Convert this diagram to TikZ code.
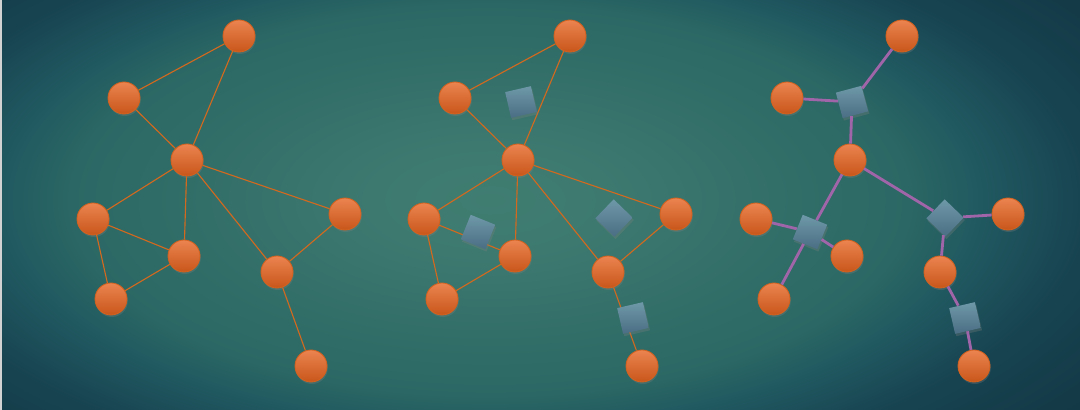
\documentclass[tikz,border=0pt]{standalone}
\usepackage{tikz}
\usetikzlibrary{shadows}

\definecolor{bgcenter}{HTML}{407D71}
\definecolor{bginner}{HTML}{3D796F}
\definecolor{bgtop}{HTML}{2B6764}
\definecolor{bgleft}{HTML}{205860}
\definecolor{bgright}{HTML}{174350}
\definecolor{bgcorner}{HTML}{133745}
\definecolor{vtop}{HTML}{EB8450}
\definecolor{vbottom}{HTML}{C8561A}
\definecolor{vborder}{HTML}{D4621F}
\definecolor{btop}{HTML}{6E98A8}
\definecolor{bbottom}{HTML}{4A6E84}
\definecolor{edgeorange}{HTML}{D2691E}
\definecolor{edgepurple}{HTML}{A064A8}

\pgfdeclareradialshading{background_shading}{\pgfpoint{0bp}{0bp}}{color(0bp)=(bgcenter); color(4bp)=(bginner); color(14bp)=(bgtop); color(16.5bp)=(bgleft); color(20bp)=(bgright); color(25bp)=(bgcorner); color(50bp)=(bgcorner)}

\begin{document}
\begin{tikzpicture}[x=0.25mm, y=-0.25mm]

	\tikzstyle{vertex_node}=[circle, minimum size=8mm, inner sep=0pt, top color=vtop, bottom color=vbottom, draw=vborder, line width=0.6pt, drop shadow={shadow xshift=0.2mm, shadow yshift=-0.5mm, opacity=0.3}]
	\tikzstyle{block_node}=[rectangle, minimum size=6.6mm, inner sep=0pt, top color=btop, bottom color=bbottom, drop shadow={shadow xshift=0.3mm, shadow yshift=-0.6mm, opacity=0.3}]
	\tikzstyle{graph_edge}=[draw=edgeorange, line width=0.8pt]
	\tikzstyle{tree_edge}=[draw=edgepurple, line width=2pt]

	\useasboundingbox (0,0) rectangle (1080,410);
	\begin{scope}
		\clip (0,0) rectangle (1080,410);
		\shade[shading=background_shading] (-260,-150) rectangle (1240,550);
	\end{scope}
	\fill[gray!35] (0,0) rectangle (2,410);

	%Left graph
	\node[vertex_node] at (239, 36) (g_a) {};
	\node[vertex_node] at (124, 98) (g_b) {};
	\node[vertex_node] at (187, 160) (g_c) {};
	\node[vertex_node] at (93, 219) (g_d) {};
	\node[vertex_node] at (184, 256) (g_e) {};
	\node[vertex_node] at (111, 299) (g_f) {};
	\node[vertex_node] at (345, 214) (g_g) {};
	\node[vertex_node] at (277, 272) (g_h) {};
	\node[vertex_node] at (311, 366) (g_i) {};

	% Connections
	\draw[graph_edge] (g_a) -- (g_b);
	\draw[graph_edge] (g_a) -- (g_c);
	\draw[graph_edge] (g_b) -- (g_c);
	\draw[graph_edge] (g_c) -- (g_d);
	\draw[graph_edge] (g_c) -- (g_e);
	\draw[graph_edge] (g_c) -- (g_g);
	\draw[graph_edge] (g_c) -- (g_h);
	\draw[graph_edge] (g_d) -- (g_e);
	\draw[graph_edge] (g_d) -- (g_f);
	\draw[graph_edge] (g_e) -- (g_f);
	\draw[graph_edge] (g_g) -- (g_h);
	\draw[graph_edge] (g_h) -- (g_i);

	%Middle graph with its blocks
	\node[vertex_node] at (570, 36) (m_a) {};
	\node[vertex_node] at (455, 98) (m_b) {};
	\node[vertex_node] at (518, 160) (m_c) {};
	\node[vertex_node] at (424, 219) (m_d) {};
	\node[vertex_node] at (515, 256) (m_e) {};
	\node[vertex_node] at (442, 299) (m_f) {};
	\node[vertex_node] at (676, 214) (m_g) {};
	\node[vertex_node] at (608, 272) (m_h) {};
	\node[vertex_node] at (642, 366) (m_i) {};

	\draw[graph_edge] (m_a) -- (m_b);
	\draw[graph_edge] (m_a) -- (m_c);
	\draw[graph_edge] (m_b) -- (m_c);
	\draw[graph_edge] (m_c) -- (m_d);
	\draw[graph_edge] (m_c) -- (m_e);
	\draw[graph_edge] (m_c) -- (m_g);
	\draw[graph_edge] (m_c) -- (m_h);
	\draw[graph_edge] (m_d) -- (m_e);
	\draw[graph_edge] (m_d) -- (m_f);
	\draw[graph_edge] (m_e) -- (m_f);
	\draw[graph_edge] (m_g) -- (m_h);
	\draw[graph_edge] (m_h) -- (m_i);

	\node[block_node, rotate=13] at (521, 102) (m_block_1) {};
	\node[block_node, rotate=-22] at (478, 232) (m_block_2) {};
	\node[block_node, rotate=-44] at (614, 218) (m_block_3) {};
	\node[block_node, rotate=13] at (633, 318) (m_block_4) {};

	%Right tree
	\node[vertex_node] at (902, 36) (t_a) {};
	\node[vertex_node] at (787, 98) (t_b) {};
	\node[vertex_node] at (850, 160) (t_c) {};
	\node[vertex_node] at (756, 219) (t_d) {};
	\node[vertex_node] at (847, 256) (t_e) {};
	\node[vertex_node] at (774, 299) (t_f) {};
	\node[vertex_node] at (1008, 214) (t_g) {};
	\node[vertex_node] at (940, 272) (t_h) {};
	\node[vertex_node] at (974, 366) (t_i) {};

	\node[block_node, rotate=15] at (852, 102) (t_block_1) {};
	\node[block_node, rotate=-22] at (810, 232) (t_block_2) {};
	\node[block_node, rotate=-44] at (945, 218) (t_block_3) {};
	\node[block_node, rotate=13] at (965, 318) (t_block_4) {};

	\draw[tree_edge] (t_block_1) -- (t_a);
	\draw[tree_edge] (t_block_1) -- (t_b);
	\draw[tree_edge] (t_block_1) -- (t_c);
	\draw[tree_edge] (t_c) -- (t_block_2);
	\draw[tree_edge] (t_c) -- (t_block_3);
	\draw[tree_edge] (t_block_2) -- (t_d);
	\draw[tree_edge] (t_block_2) -- (t_e);
	\draw[tree_edge] (t_block_2) -- (t_f);
	\draw[tree_edge] (t_block_3) -- (t_g);
	\draw[tree_edge] (t_block_3) -- (t_h);
	\draw[tree_edge] (t_h) -- (t_block_4);
	\draw[tree_edge] (t_block_4) -- (t_i);

\end{tikzpicture}
\end{document}
